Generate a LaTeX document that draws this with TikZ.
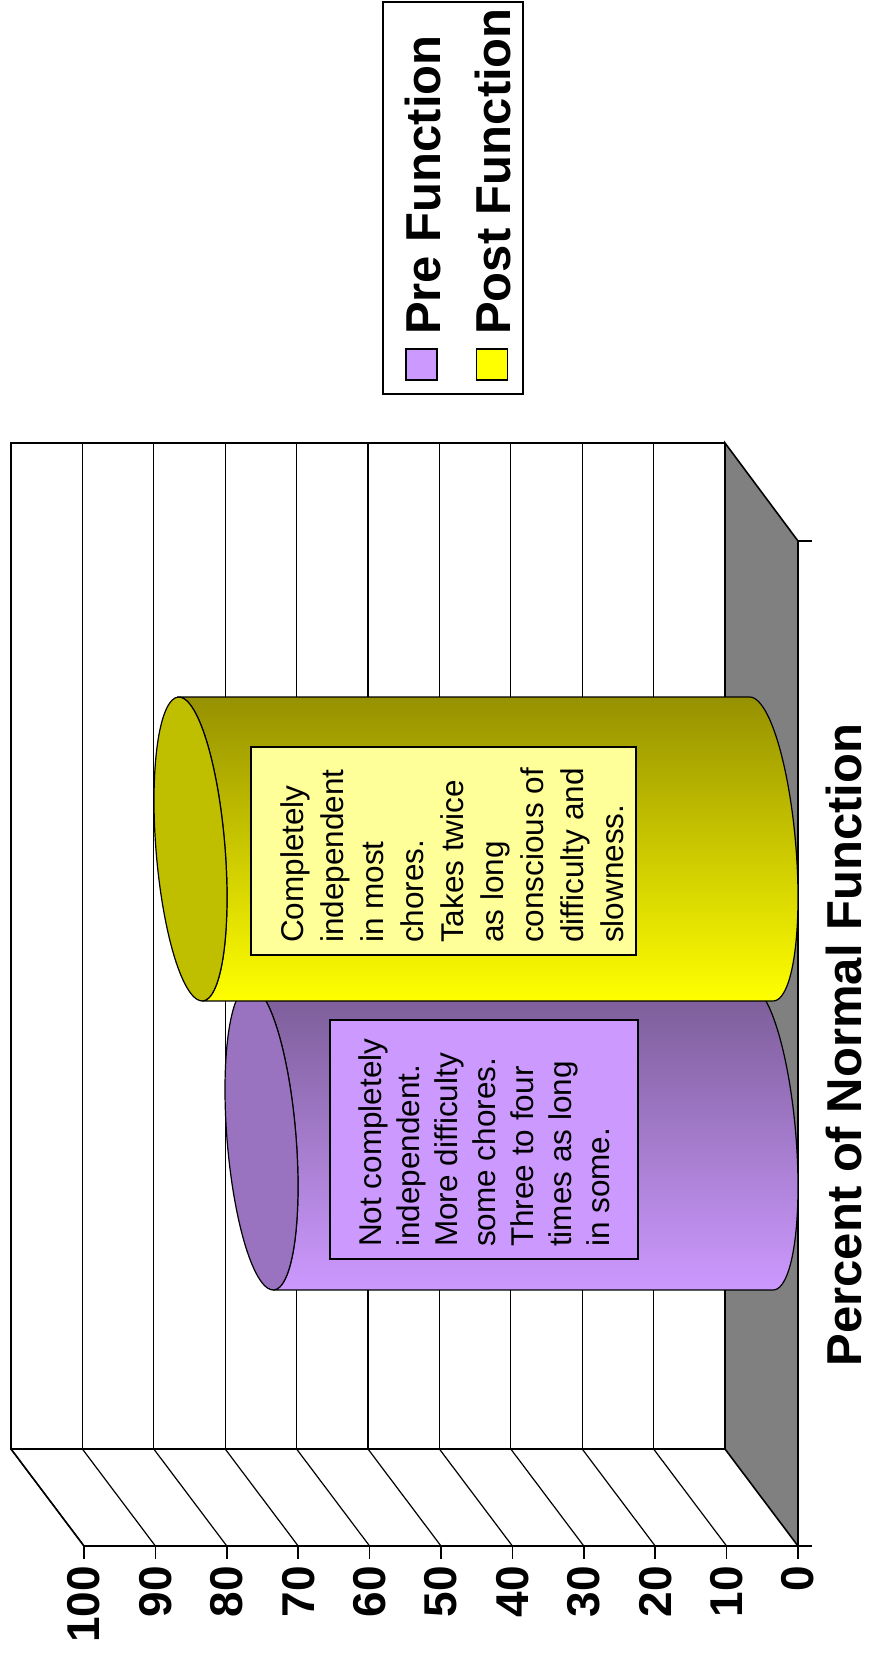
\documentclass[tikz,border=0pt]{standalone}
\usepackage{fontspec}
\setmainfont{Liberation Sans}
\definecolor{ytop}{RGB}{150,145,0}
\definecolor{ybot}{RGB}{255,255,0}
\definecolor{ycap}{RGB}{191,191,0}
\definecolor{ptop}{RGB}{122,92,150}
\definecolor{pbot}{RGB}{204,153,255}
\definecolor{pcap}{RGB}{153,115,191}
\definecolor{ybox}{RGB}{255,255,153}
\definecolor{pbox}{RGB}{204,153,255}
\definecolor{wallgray}{RGB}{128,128,128}
\begin{document}
\begin{tikzpicture}[x=1pt,y=-1pt,
  frame/.style={draw=black, line width=1.6pt},
  gridln/.style={draw=black, line width=1.2pt},
  ticklab/.style={rotate=90, anchor=east, inner sep=0pt, font=\fontsize{46}{55}\selectfont\bfseries},
  legtext/.style={rotate=90, anchor=base west, inner sep=0pt, font=\fontsize{49}{58}\selectfont\bfseries},
  notebox/.style={draw=black, line width=1.2pt, inner sep=0pt},
  notetext/.style={rotate=90, anchor=north west, align=left, inner sep=0pt},
  cylline/.style={draw=black, line width=1.2pt},
  swatch/.style={draw=black, line width=1.4pt, minimum size=31pt, inner sep=0pt}]
\useasboundingbox (0,0) rectangle (872,1656);
% back wall
\fill[white] (11,443) rectangle (725,1449);
\foreach \k in {1,...,9} \draw[gridln] ({11+71.4*\k},443) -- ({11+71.4*\k},1449);
\draw[frame] (725,443) -- (11,443) -- (11,1449) -- (725,1449);
% bottom side wall (floor of the value axis)
\foreach \k in {0,...,9} \draw[gridln] ({11+71.4*\k},1449) -- ({84+71.4*\k},1546);
\draw[frame] (11,1449) -- (84,1546);
% gray wall
\filldraw[fill=wallgray, draw=black, line width=1.6pt] (725,443) -- (798,541) -- (798,1546) -- (725,1449) -- cycle;
% axes
\draw[frame] (84,1546) -- (812,1546);
\draw[frame] (798,541) -- (812,541);
\foreach \k in {0,...,10} \draw[frame] ({84+71.4*\k},1546) -- ({84+71.4*\k},1559);
\foreach \v [count=\i from 0] in {100,90,80,70,60,50,40,30,20,10,0}
  \node[ticklab] (lab\v) at ({84+71.4*\i},1566) {\v};
% purple cylinder (Pre Function, 70)
\path[cylline, top color=ptop, bottom color=pbot]
  (249.85,986.05) -- (749.85,986.05)
  -- plot[smooth, domain=251.4:431.4, samples=50] ({761.5+36.5*cos(\x)},{1138+48.5*cos(\x)+144*sin(\x)})
  -- (273.15,1289.95)
  -- plot[smooth, domain=71.4:-108.6, samples=50] ({261.5+36.5*cos(\x)},{1138+48.5*cos(\x)+144*sin(\x)})
  -- cycle;
\path[cylline, fill=pcap] plot[smooth cycle, domain=0:355, samples=72] ({261.5+36.5*cos(\x)},{1138+48.5*cos(\x)+144*sin(\x)});
% yellow cylinder (Post Function, 80)
\path[cylline, top color=ytop, bottom color=ybot]
  (178.85,697.05) -- (749.85,697.05)
  -- plot[smooth, domain=251.4:431.4, samples=50] ({761.5+36.5*cos(\x)},{849+48.5*cos(\x)+144*sin(\x)})
  -- (202.15,1000.95)
  -- plot[smooth, domain=71.4:-108.6, samples=50] ({190.5+36.5*cos(\x)},{849+48.5*cos(\x)+144*sin(\x)})
  -- cycle;
\path[cylline, fill=ycap] plot[smooth cycle, domain=0:355, samples=72] ({190.5+36.5*cos(\x)},{849+48.5*cos(\x)+144*sin(\x)});
% note boxes
\node[notebox, fill=ybox, minimum width=385pt, minimum height=208pt] (ynote) at (443.5,851) {};
\node[notetext, font=\fontsize{31.5}{40}\selectfont] (ynotetext) at (280,943) {Completely\\independent\\in most\\chores.\\Takes twice\\as long\\conscious of\\difficulty and\\slowness.};
\node[notebox, fill=pbox, minimum width=308pt, minimum height=239pt] (pnote) at (484,1139.5) {};
\node[notetext, font=\fontsize{31.5}{38}\selectfont] (pnotetext) at (358,1247) {Not completely\\independent.\\More difficulty\\some chores.\\Three to four\\times as long\\in some.};
% legend
\node[draw=black, line width=1.5pt, minimum width=140pt, minimum height=392pt, inner sep=0pt] (legend) at (453,198) {};
\node[swatch, fill=pbox] (prekey) at (421.5,364.5) {};
\node[swatch, fill=ybot] (postkey) at (492,364.5) {};
\node[legtext] (pretext) at (440,335) {Pre Function};
\node[legtext] (posttext) at (510,335) {Post Function};
% axis title
\node[rotate=90, anchor=base, inner sep=0pt, font=\fontsize{49}{58}\selectfont\bfseries] (title) at (861,1045) {Percent of Normal Function};
\end{tikzpicture}
\end{document}
